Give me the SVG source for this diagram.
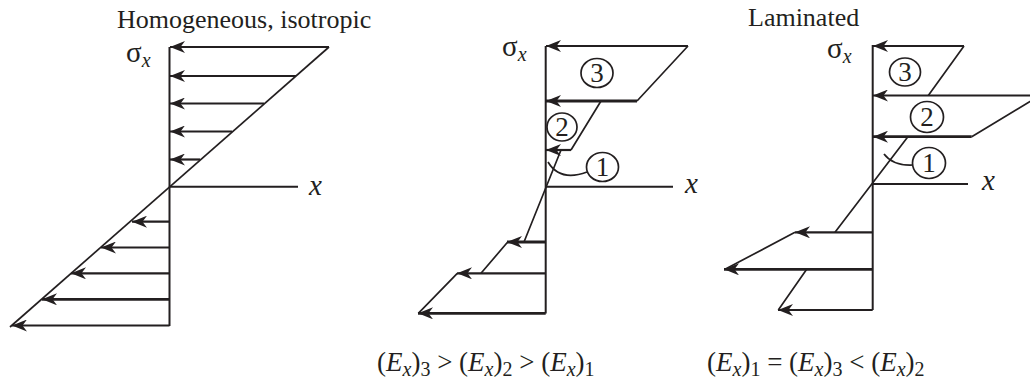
<svg xmlns="http://www.w3.org/2000/svg" width="1030" height="381" viewBox="0 0 1030 381">
<style>
.t{font-family:"Liberation Serif","Times New Roman",serif;font-size:26px;fill:#231f20}
.e{font-size:27px}
.g{font-size:29px}
.d{font-size:27px}
.i{font-style:italic}
.s{font-size:20px}
.ln{stroke:#231f20;stroke-width:2;fill:none}
.th{stroke:#231f20;stroke-width:1.7;fill:none}
.ar{stroke:#231f20;stroke-width:2.2;fill:none;marker-end:url(#ah)}
.c{stroke:#231f20;stroke-width:1.7;fill:#fff}
</style>
<defs>
<marker id="ah" viewBox="0 0 15 12" refX="15" refY="6" markerWidth="15" markerHeight="12" markerUnits="userSpaceOnUse" orient="auto">
<path d="M0,0 L15,6 L0,12 L4.5,6 Z" fill="#231f20"/>
</marker>
</defs>
<rect width="1030" height="381" fill="#fff"/>

<g id="panel-homogeneous">
<text class="t" x="117" y="28">Homogeneous, isotropic</text>
<text class="t g" x="126" y="62">σ<tspan class="i s" dy="5">x</tspan></text>
<text class="t g i" x="309" y="195">x</text>
<path class="ln" d="M169.5,47 V326 M169.5,186.7 H298"/>
<path class="th" d="M329,47 L10,327"/>
<path class="ar" d="M329,47 H170"/>
<path class="ar" d="M296,76 H170"/>
<path class="ar" d="M264,103.5 H170"/>
<path class="ar" d="M232,131.5 H170"/>
<path class="ar" d="M200,159.5 H170"/>
<path class="ar" d="M169.5,221.7 H132"/>
<path class="ar" d="M169.5,247.5 H101"/>
<path class="ar" d="M169.5,273.3 H71"/>
<path class="ar" d="M169.5,299.3 H42" style="stroke-width:2.8"/>
<path class="ar" d="M169.5,325.5 H12"/>
</g>

<g id="panel-laminated-a">
<text class="t g" x="502" y="56">σ<tspan class="i s" dy="5">x</tspan></text>
<text class="t g i" x="685" y="193">x</text>
<path class="ln" d="M545.7,46 V313.5 M545.7,186.7 H673"/>
<path class="th" d="M688,46 L637,101 M601,101 L571,150 M561,150 L524,242 M507.7,242 L481,273.3 M457.3,273.3 L418.3,313.3"/>
<path class="ar" d="M688,46 H546"/>
<path class="ar" d="M637,101 H546" style="stroke-width:2.8"/>
<path class="ar" d="M571,150 H546"/>
<path class="ar" d="M545.7,242 H507" style="stroke-width:2.8"/>
<path class="ar" d="M545.7,273.3 H457"/>
<path class="ar" d="M545.7,313.3 H418" style="stroke-width:2.8"/>
<path class="th" d="M587,172 Q560,182 548,162"/>
<g id="n3a"><ellipse class="c" cx="597" cy="73" rx="16" ry="14.5"/><text class="t d" x="597" y="82" text-anchor="middle">3</text></g>
<g id="n2a"><ellipse class="c" cx="562" cy="127" rx="15" ry="14"/><text class="t d" x="562" y="136" text-anchor="middle">2</text></g>
<g id="n1a"><ellipse class="c" cx="602.5" cy="167" rx="16" ry="14.5"/><text class="t d" x="602.5" y="176" text-anchor="middle">1</text></g>
<text class="t e" x="377" y="371">(<tspan class="i">E</tspan><tspan class="i s" dy="5">x</tspan><tspan dy="-5">)</tspan><tspan class="s" dy="5">3</tspan><tspan dy="-5"> &gt; (</tspan><tspan class="i">E</tspan><tspan class="i s" dy="5">x</tspan><tspan dy="-5">)</tspan><tspan class="s" dy="5">2</tspan><tspan dy="-5"> &gt; (</tspan><tspan class="i">E</tspan><tspan class="i s" dy="5">x</tspan><tspan dy="-5">)</tspan><tspan class="s" dy="5">1</tspan></text>
</g>

<g id="panel-laminated-b">
<text class="t" x="748" y="26">Laminated</text>
<text class="t g" x="827" y="58">σ<tspan class="i s" dy="5">x</tspan></text>
<text class="t g i" x="982" y="190">x</text>
<path class="ln" d="M872.7,45 V310 M872.7,184 H968"/>
<path class="th" d="M964,46 L928.3,95.5 M1040,95.5 L971.7,136.7 M907.7,137 L835,232.3 M795,232.3 L725,269.3 M806.7,269.3 L778.3,310"/>
<path class="ar" d="M964,46 H873"/>
<path class="ar" d="M1040,95.5 H873"/>
<path class="ar" d="M971.7,136.7 H873" style="stroke-width:2.8"/>
<path class="ar" d="M872.7,232.3 H795"/>
<path class="ar" d="M872.7,269.3 H724" style="stroke-width:2.8"/>
<path class="ar" d="M872.7,310 H778"/>
<path class="th" d="M913,165 Q893,166 884,154"/>
<g id="n3b"><ellipse class="c" cx="905" cy="72" rx="15.5" ry="14"/><text class="t d" x="905" y="81" text-anchor="middle">3</text></g>
<g id="n2b"><ellipse class="c" cx="927" cy="117" rx="16.5" ry="15.5"/><text class="t d" x="927" y="126" text-anchor="middle">2</text></g>
<g id="n1b"><ellipse class="c" cx="929" cy="163" rx="16.5" ry="15.5"/><text class="t d" x="929" y="172" text-anchor="middle">1</text></g>
<text class="t e" x="707" y="371">(<tspan class="i">E</tspan><tspan class="i s" dy="5">x</tspan><tspan dy="-5">)</tspan><tspan class="s" dy="5">1</tspan><tspan dy="-5"> = (</tspan><tspan class="i">E</tspan><tspan class="i s" dy="5">x</tspan><tspan dy="-5">)</tspan><tspan class="s" dy="5">3</tspan><tspan dy="-5"> &lt; (</tspan><tspan class="i">E</tspan><tspan class="i s" dy="5">x</tspan><tspan dy="-5">)</tspan><tspan class="s" dy="5">2</tspan></text>
</g>
</svg>
